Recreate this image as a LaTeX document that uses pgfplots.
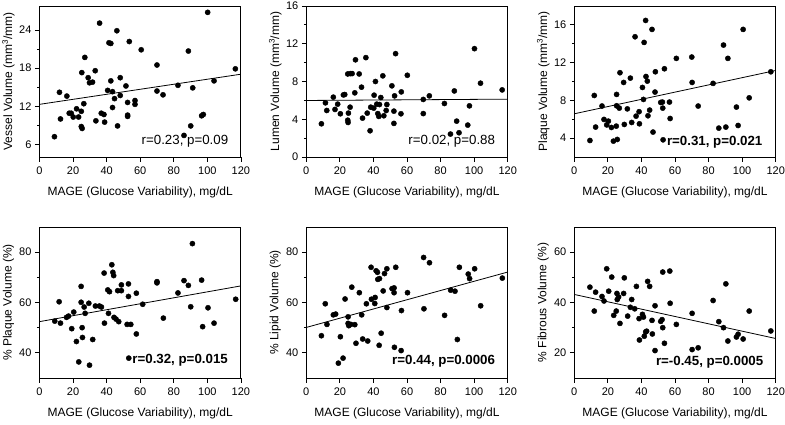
\documentclass[border=0pt]{standalone}
\usepackage{fontspec}
\setmainfont{Liberation Sans}
\usepackage{pgfplots}
\pgfplotsset{compat=1.18}
\pgfplotsset{
 mage/.style={
  scale only axis, width=201.4pt, height=151pt,
  anchor=north west,
  xmin=0, xmax=120, xtick={0,20,...,120},
  axis line style={line width=0.9pt},
  tick align=outside, xtick pos=bottom, ytick pos=left,
  major tick length=4.5pt, minor tick length=2.5pt,
  every tick/.style={line width=0.8pt, black},
  minor y tick num=1,
  /pgf/number format/assume math mode=true,
  ticklabel style={font=\fontsize{11}{13}\selectfont},
  xticklabel style={yshift=-1.8pt},
  label style={font=\fontsize{12}{14}\selectfont},
  xlabel={MAGE (Glucose Variability), mg/dL},
  xlabel style={at={(axis description cs:0.5,-0.235)}, anchor=center},
  ylabel style={at={(axis description cs:-0.154,0.5)}, anchor=center},
  clip=false,
 },
 dots/.style={only marks, mark=*, mark size=2.6pt, black},
 fit/.style={black, line width=0.8pt, no marks},
}
\tikzset{ann/.style={anchor=east, inner sep=0pt, font=\fontsize{13.3}{15}\selectfont}}
\begin{document}
\begin{tikzpicture}
\useasboundingbox (0pt,0pt) rectangle (785pt,-424pt);
% Panel 1
\begin{axis}[mage, at={(39.5pt,-6pt)}, ymin=4, ymax=27.8, ytick={6,12,18,24},
  ylabel={Vessel Volume (mm\textsuperscript{3}/mm)}]
\addplot[dots] table {
x y
8.9 7.2
11.9 14.2
12.5 10.0
16.3 13.6
17.7 10.9
18.9 10.9
20.1 10.3
22.1 11.6
23.3 10.3
24.9 11.2
25.2 17.3
24.9 8.8
25.4 8.5
26.4 12.4
27.0 19.7
29.0 16.5
29.8 15.7
31.6 15.8
33.2 17.6
33.6 9.7
35.8 25.1
36.8 10.9
38.4 10.7
38.8 9.5
40.6 14.5
41.4 22.0
42.5 21.9
42.5 16.0
43.5 14.3
43.5 11.8
44.7 13.2
46.1 23.9
46.5 8.9
48.1 16.5
48.1 13.7
51.5 15.2
52.5 12.6
52.5 10.6
52.5 10.4
53.5 22.2
56.9 12.9
56.9 12.3
60.6 20.9
70.0 18.5
70.0 14.4
73.6 13.8
82.5 15.3
86.1 7.4
88.7 20.7
90.1 8.9
91.3 14.9
96.6 10.5
97.6 10.7
100.2 26.8
104.0 16.0
116.7 17.9
};
\addplot[fit] coordinates {(0,12.3) (120,17.05)};
\node[ann] at (rel axis cs:0.938,0.105) {r=0.23, p=0.09};
\end{axis}
% Panel 2
\begin{axis}[mage, at={(306.3pt,-6pt)}, ymin=0, ymax=16, ytick={0,4,8,12,16},
  ylabel={Lumen Volume (mm\textsuperscript{3}/mm)}]
\addplot[dots] table {
x y
9.0 3.52
11.4 5.74
12.2 4.93
16.1 6.34
17.1 5.04
18.7 5.6
20.3 4.58
22.1 6.58
22.9 6.62
24.7 8.8
24.7 3.9
24.9 3.66
25.1 4.65
26.1 5.28
26.3 8.84
27.3 8.84
28.9 6.8
29.3 10.3
31.5 8.8
32.9 7.4
33.5 4.12
35.5 10.53
36.3 4.65
38.0 2.78
38.4 5.28
40.4 6.55
40.2 5.18
41.2 8.0
42.0 5.6
42.6 4.6
43.2 4.3
43.6 5.56
44.4 6.3
45.6 8.6
46.2 4.37
47.6 4.93
48.0 5.56
51.0 7.54
52.2 4.86
52.2 3.56
52.6 6.48
53.2 10.95
56.4 4.58
56.6 6.9
60.2 8.66
69.7 6.1
69.7 4.6
73.3 6.48
82.3 5.67
85.9 2.43
88.2 7.0
89.6 3.8
91.0 2.57
96.2 3.38
97.2 5.42
100.2 11.48
103.8 7.82
116.7 7.11
};
\addplot[fit] coordinates {(0,5.99) (120,6.13)};
\node[ann] at (rel axis cs:0.938,0.105) {r=0.02, p=0.88};
\end{axis}
% Panel 3
\begin{axis}[mage, at={(574.3pt,-6pt)}, ymin=2, ymax=18, ytick={4,8,12,16},
  ylabel={Plaque Volume (mm\textsuperscript{3}/mm)}]
\addplot[dots] table {
x y
9.3 3.75
11.9 8.52
12.7 5.17
16.5 7.4
17.7 5.98
19.3 5.4
20.3 5.8
22.1 5.13
23.3 3.68
25.0 5.27
25.2 8.63
25.2 7.43
25.6 3.86
26.8 7.18
27.2 10.93
29.4 9.9
29.8 5.45
31.6 7.1
33.4 10.36
34.2 5.66
36.2 14.74
36.8 6.33
38.6 6.8
38.8 5.52
40.6 9.37
41.2 8.1
41.6 14.14
42.5 16.47
42.7 10.53
43.5 10.04
43.9 6.37
44.9 6.97
46.3 15.52
46.9 4.64
48.1 8.88
48.3 11.03
51.5 7.78
52.5 7.82
52.7 7.18
52.9 3.82
53.7 11.35
56.7 7.82
57.1 6.08
60.8 12.45
70.0 12.59
70.2 9.9
73.8 7.4
82.7 9.8
86.1 5.06
88.9 13.86
90.3 5.17
91.5 12.45
96.6 7.29
97.6 5.34
100.6 15.52
104.2 8.27
117.1 11.03
};
\addplot[fit] coordinates {(0,6.58) (120,11.17)};
\node[ann] at (rel axis cs:0.935,0.10) {\bfseries r=0.31, p=0.021};
\end{axis}
% Panel 4
\begin{axis}[mage, at={(39.5pt,-227pt)}, ymin=30, ymax=90, ytick={40,60,80},
  ylabel={\% Plaque Volume (\%)}]
\addplot[dots] table {
x y
9.1 52.6
11.7 60.3
12.5 51.8
16.1 54.1
17.3 54.6
19.2 49.6
20.4 56.2
22.0 44.5
23.4 36.4
24.8 66.4
24.8 60.1
25.4 50.0
25.6 46.1
26.6 58.2
27.2 55.7
29.4 59.7
29.8 35.1
31.7 45.3
33.3 58.6
35.7 58.6
36.9 58.2
38.5 71.7
38.7 51.8
40.7 65.0
41.7 64.3
41.1 55.7
43.1 75.0
43.7 72.0
44.2 70.7
44.4 54.1
45.6 53.4
46.6 64.7
47.2 52.4
48.8 64.7
48.8 67.0
52.2 51.3
53.0 67.4
53.0 62.4
54.4 51.3
53.2 37.9
57.7 63.7
57.7 47.5
61.5 59.3
70.0 68.3
70.0 67.8
73.8 53.8
82.5 63.8
86.1 68.7
88.7 66.8
90.1 58.3
91.1 83.4
96.6 68.9
97.2 50.4
100.4 57.9
104.0 51.8
116.9 61.3
};
\addplot[fit] coordinates {(0,52.4) (120,66.6)};
\node[ann] at (rel axis cs:0.936,0.117) {\bfseries r=0.32, p=0.015};
\end{axis}
% Panel 5
\begin{axis}[mage, at={(306.3pt,-227pt)}, ymin=30, ymax=90, ytick={40,60,80},
  ylabel={\% Lipid Volume (\%)}]
\addplot[dots] table {
x y
9.0 46.8
11.3 59.5
12.3 51.3
16.1 55.1
17.5 55.4
19.1 35.9
20.3 46.4
21.9 37.9
23.1 61.4
24.9 54.3
24.9 51.7
25.3 50.8
26.5 51.3
27.1 66.1
28.9 51.2
29.6 43.8
31.6 63.9
33.0 55.1
33.6 45.5
35.8 59.5
36.6 44.7
38.6 74.0
38.8 61.3
40.8 59.6
41.0 62.0
41.6 72.6
42.4 72.0
42.6 69.2
43.6 69.5
43.4 43.0
44.6 47.8
45.8 64.6
46.6 71.5
48.0 58.0
48.0 73.4
51.1 65.5
52.3 65.8
52.3 63.9
52.5 42.2
53.3 74.0
56.5 40.9
56.7 56.8
60.3 63.9
69.9 77.9
70.1 57.5
73.4 75.8
82.4 54.9
86.0 64.9
88.6 64.5
90.0 45.3
91.2 74.0
96.5 71.3
97.3 69.5
100.3 73.4
103.9 58.7
116.8 69.7
};
\addplot[fit] coordinates {(0,50.1) (120,72.1)};
\node[ann] at (rel axis cs:0.938,0.11) {\bfseries r=0.44, p=0.0006};
\end{axis}
% Panel 6
\begin{axis}[mage, at={(574.3pt,-227pt)}, ymin=10, ymax=70, ytick={20,40,60},
  ylabel={\% Fibrous Volume (\%)}]
\addplot[dots] table {
x y
9.3 46.1
11.9 36.6
12.7 44.1
16.5 42.4
17.7 40.6
19.3 53.4
20.5 44.5
22.3 50.1
23.5 34.9
25.0 36.6
25.4 43.6
25.6 41.2
26.4 42.2
27.2 31.7
29.4 43.6
29.8 49.8
31.8 34.6
33.4 38.1
34.2 41.2
36.0 37.5
37.0 46.4
38.6 33.6
38.8 25.1
40.6 35.3
41.2 34.2
41.7 26.6
42.5 28.3
43.1 28.6
43.7 48.4
44.9 46.4
46.3 32.9
46.5 27.5
48.1 38.7
48.1 20.9
51.5 32.5
52.3 33.2
52.7 52.1
52.7 30.0
53.7 23.8
56.9 52.5
57.1 39.7
60.8 31.3
70.2 35.7
70.2 21.3
73.8 22.0
82.7 40.8
86.1 32.4
88.9 30.0
90.3 47.4
91.5 24.7
96.6 26.3
97.6 27.4
100.6 25.5
104.2 36.6
117.1 28.7
};
\addplot[fit] coordinates {(0,43.2) (120,25.7)};
\node[ann] at (rel axis cs:0.939,0.107) {\bfseries r=-0.45, p=0.0005};
\end{axis}
\end{tikzpicture}
\end{document}
